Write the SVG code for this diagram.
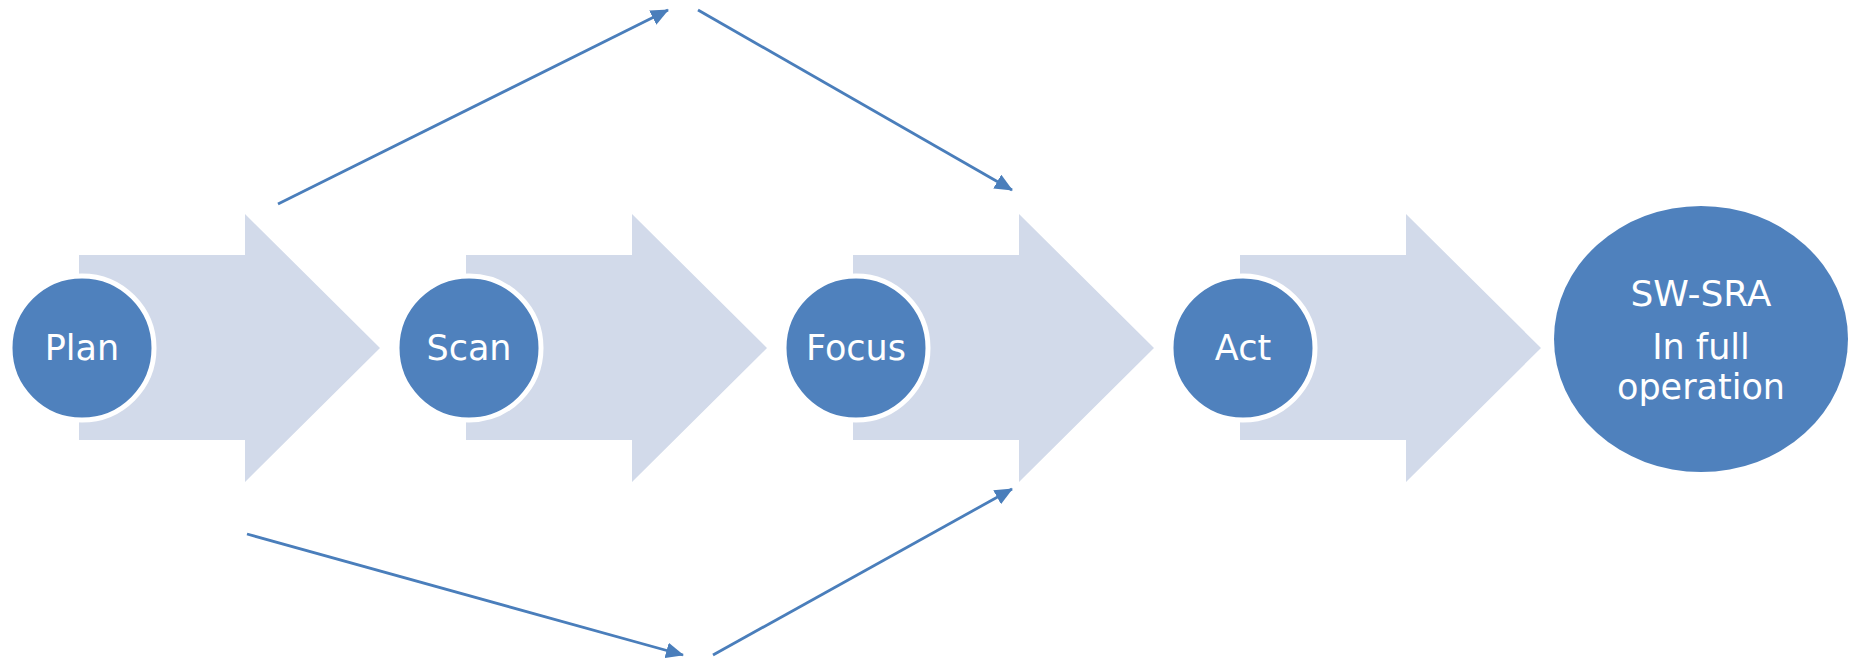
<svg xmlns="http://www.w3.org/2000/svg" width="1863" height="661" viewBox="0 0 1863 661">
<style>
.blk{fill:#D2DAEA;stroke:none}
.node{fill:#4F81BD;stroke:#FFFFFF;stroke-width:5}
.lbl{font-family:"DejaVu Sans",Verdana,sans-serif;font-size:35px;fill:#FFFFFF;text-anchor:middle}
.con{stroke:#4A7EBB;stroke-width:2.8;fill:none;marker-end:url(#ah)}
</style>
<defs>
<marker id="ah" markerUnits="userSpaceOnUse" markerWidth="18" markerHeight="16" viewBox="0 0 18 16" refX="17" refY="8" orient="auto">
<path d="M0,0 L18,8 L0,16 Z" fill="#4A7EBB"/>
</marker>
<path id="barrow" d="M0,0 L166,0 L166,-41 L301,93 L166,227 L166,185 L0,185 Z"/>
</defs>
<rect width="1863" height="661" fill="#FFFFFF"/>
<g id="arrows">
<use href="#barrow" class="blk" x="79" y="255"/>
<use href="#barrow" class="blk" x="466" y="255"/>
<use href="#barrow" class="blk" x="853" y="255"/>
<use href="#barrow" class="blk" x="1240" y="255"/>
</g>
<g id="connectors">
<line class="con" x1="278" y1="204" x2="668" y2="10"/>
<line class="con" x1="698" y1="10" x2="1012" y2="190"/>
<line class="con" x1="247" y1="534" x2="683" y2="655"/>
<line class="con" x1="713" y1="655" x2="1012" y2="489"/>
</g>
<g id="plan">
<circle class="node" cx="82" cy="348" r="72"/>
<text class="lbl" x="82" y="360">Plan</text>
</g>
<g id="scan">
<circle class="node" cx="469" cy="348" r="72"/>
<text class="lbl" x="469" y="360">Scan</text>
</g>
<g id="focus">
<circle class="node" cx="856" cy="348" r="72"/>
<text class="lbl" x="856" y="360">Focus</text>
</g>
<g id="act">
<circle class="node" cx="1243" cy="348" r="72"/>
<text class="lbl" x="1243" y="360">Act</text>
</g>
<g id="swsra">
<ellipse cx="1701" cy="339" rx="147" ry="133" fill="#4F81BD"/>
<text class="lbl" x="1701" y="306" style="font-size:36px">SW-SRA</text>
<text class="lbl" x="1701" y="359">In full</text>
<text class="lbl" x="1701" y="399">operation</text>
</g>
</svg>
